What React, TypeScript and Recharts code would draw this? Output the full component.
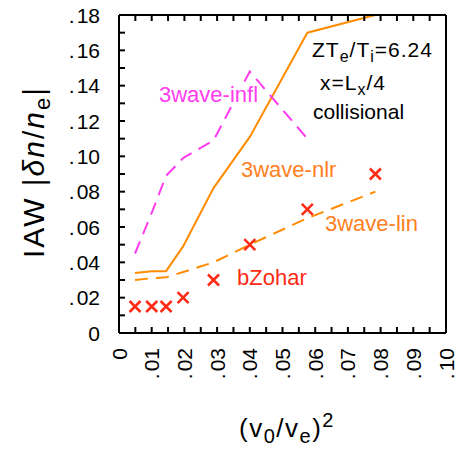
import { ComposedChart, Line, Scatter, XAxis, YAxis } from "recharts"

// (v0/ve)^2 values where the runs were done
const X_VALUES = [0.0049, 0.01, 0.0144, 0.0196, 0.0289, 0.04, 0.0576, 0.0784]
const NLR = [0.034, 0.035, 0.035, 0.049, 0.082, 0.111, 0.17, 0.18]
const LIN = [0.03, 0.031, 0.0315, 0.0345, 0.04, 0.05, 0.065, 0.08]
const INFL = [0.045, 0.068, 0.089, 0.099, 0.109, 0.148, 0.11, null]
const ZOHAR = [0.015, 0.015, 0.015, 0.02, 0.03, 0.05, 0.07, 0.09]

const X_TICKS = [0, 0.005, 0.01, 0.015, 0.02, 0.025, 0.03, 0.035, 0.04, 0.045, 0.05, 0.055, 0.06, 0.065, 0.07, 0.075, 0.08, 0.085, 0.09, 0.095, 0.1]
const X_LABELS = ["0", ".01", ".02", ".03", ".04", ".05", ".06", ".07", ".08", ".09", ".10"]
const Y_TICKS = [0, 0.01, 0.02, 0.03, 0.04, 0.05, 0.06, 0.07, 0.08, 0.09, 0.1, 0.11, 0.12, 0.13, 0.14, 0.15, 0.16, 0.17, 0.18]
const Y_LABELS = ["0", ".02", ".04", ".06", ".08", ".10", ".12", ".14", ".16", ".18"]

const data = X_VALUES.map((x, i) => ({ x, nlr: NLR[i], lin: LIN[i], infl: INFL[i], zohar: ZOHAR[i] }))

const FONT = "'Liberation Sans', Arial, sans-serif"
const ORANGE = "#ff8c00"
const ORANGE_TXT = "#ff7f22"
const MAGENTA = "#ff3cf0"
const RED = "#ff2a14"
const TICK_LEN = 6

function labelText(s: string) {
  if (s === "0") return s
  return (
    <>
      <tspan>.</tspan>
      <tspan dx={2}>{s.slice(1)}</tspan>
    </>
  )
}

// tickSize is 0, so (x, y) sits on the frame; the inward marks are drawn here
function XTick(props: any) {
  const { x, y, payload } = props
  const k = Math.round(payload.value * 200)
  const s = k % 2 === 0 ? X_LABELS[k / 2] : null
  return (
    <g>
      <path d={`M${x},${y}L${x},${y - TICK_LEN}`} stroke="#000" strokeWidth={2} />
      {s && (
        <text
          transform={`translate(${x},${y + 15}) rotate(-90)`}
          textAnchor="end"
          dy="0.36em"
          fontFamily={FONT}
          fontSize={21}
          fill="#000"
        >
          {labelText(s)}
        </text>
      )}
    </g>
  )
}

function TopTick(props: any) {
  const { x, y } = props
  return <path d={`M${x},${y}L${x},${y + TICK_LEN}`} stroke="#000" strokeWidth={2} />
}

function YTick(props: any) {
  const { x, y, payload } = props
  const k = Math.round(payload.value * 100)
  const s = k % 2 === 0 ? Y_LABELS[k / 2] : null
  return (
    <g>
      <path d={`M${x},${y}L${x + TICK_LEN},${y}`} stroke="#000" strokeWidth={2} />
      {s && (
        <text x={x - 19} y={y} textAnchor="end" dy="0.36em" fontFamily={FONT} fontSize={21} fill="#000">
          {labelText(s)}
        </text>
      )}
    </g>
  )
}

function RightTick(props: any) {
  const { x, y } = props
  return <path d={`M${x},${y}L${x - TICK_LEN},${y}`} stroke="#000" strokeWidth={2} />
}

function Cross(props: any) {
  const { cx, cy } = props
  const r = 5.5
  return (
    <path
      d={`M${cx - r},${cy - r}L${cx + r},${cy + r}M${cx - r},${cy + r}L${cx + r},${cy - r}`}
      stroke={RED}
      strokeWidth={2.5}
      fill="none"
    />
  )
}

const axisStroke = { stroke: "#000", strokeWidth: 2 }

export default function App() {
  return (
    <div style={{ position: "absolute", left: 0, top: 0, width: 459, height: 455, background: "#fff" }}>
      <ComposedChart width={459} height={455} data={data} margin={{ top: 14, right: 12, bottom: 121, left: 118 }}>
        <XAxis
          type="number"
          dataKey="x"
          domain={[0, 0.1]}
          ticks={X_TICKS}
          interval={0}
          height={1}
          tickSize={0}
          tickMargin={0}
          axisLine={axisStroke}
          tickLine={false}
          tick={<XTick />}
        />
        <XAxis
          xAxisId="top"
          orientation="top"
          type="number"
          dataKey="x"
          domain={[0, 0.1]}
          ticks={X_TICKS}
          interval={0}
          height={1}
          tickSize={0}
          tickMargin={0}
          axisLine={axisStroke}
          tickLine={false}
          tick={<TopTick />}
        />
        <YAxis
          type="number"
          domain={[0, 0.18]}
          ticks={Y_TICKS}
          interval={0}
          width={1}
          tickSize={0}
          tickMargin={0}
          axisLine={axisStroke}
          tickLine={false}
          tick={<YTick />}
        />
        <YAxis
          yAxisId="right"
          orientation="right"
          type="number"
          domain={[0, 0.18]}
          ticks={Y_TICKS}
          interval={0}
          width={1}
          tickSize={0}
          tickMargin={0}
          axisLine={axisStroke}
          tickLine={false}
          tick={<RightTick />}
        />
        <Line type="linear" dataKey="nlr" stroke={ORANGE} strokeWidth={2} dot={false} isAnimationActive={false} />
        <Line type="linear" dataKey="infl" stroke={MAGENTA} strokeWidth={2} strokeDasharray="13 8" dot={false} isAnimationActive={false} />
        <Line type="linear" dataKey="lin" stroke={ORANGE} strokeWidth={2} strokeDasharray="13 8" dot={false} isAnimationActive={false} />
        <Scatter dataKey="zohar" shape={<Cross />} isAnimationActive={false} />
      </ComposedChart>
      <svg width={459} height={455} style={{ position: "absolute", left: 0, top: 0, pointerEvents: "none" }} fontFamily={FONT}>
        <text x={159} y={102} fontSize={22} fill={MAGENTA} stroke="#fff" strokeWidth={5} paintOrder="stroke">3wave-infl</text>
        <text x={241} y={177} fontSize={22} fill={ORANGE_TXT}>3wave-nlr</text>
        <text x={325} y={231} fontSize={22} fill={ORANGE_TXT}>3wave-lin</text>
        <text x={237} y={285} fontSize={22} fill={RED}>bZohar</text>
        <text x={312} y={57} fontSize={21} fill="#000" letterSpacing={1}>
          <tspan>ZT</tspan>
          <tspan dy={5} fontSize={16}>e</tspan>
          <tspan dy={-5}>/T</tspan>
          <tspan dy={5} fontSize={16}>i</tspan>
          <tspan dy={-5}>=6.24</tspan>
        </text>
        <text x={320} y={90} fontSize={21} fill="#000" letterSpacing={1}>
          <tspan>x=L</tspan>
          <tspan dy={5} fontSize={16}>x</tspan>
          <tspan dy={-5}>/4</tspan>
        </text>
        <text x={313} y={119} fontSize={21} fill="#000">collisional</text>
        <text transform="translate(44,172) rotate(-90)" textAnchor="middle" fontSize={30} fill="#000" letterSpacing={2}>
          <tspan>IAW |</tspan>
          <tspan fontStyle="italic">δn</tspan>
          <tspan>/</tspan>
          <tspan fontStyle="italic">n</tspan>
          <tspan dy={6} fontSize={22}>e</tspan>
          <tspan dy={-6}>|</tspan>
        </text>
        <text x={287} y={437} textAnchor="middle" fontSize={26} fill="#000" letterSpacing={1.5}>
          <tspan>(v</tspan>
          <tspan dy={6} fontSize={20}>0</tspan>
          <tspan dy={-6}>/v</tspan>
          <tspan dy={6} fontSize={20}>e</tspan>
          <tspan dy={-6}>)</tspan>
          <tspan dy={-10} fontSize={20}>2</tspan>
        </text>
      </svg>
    </div>
  )
}
